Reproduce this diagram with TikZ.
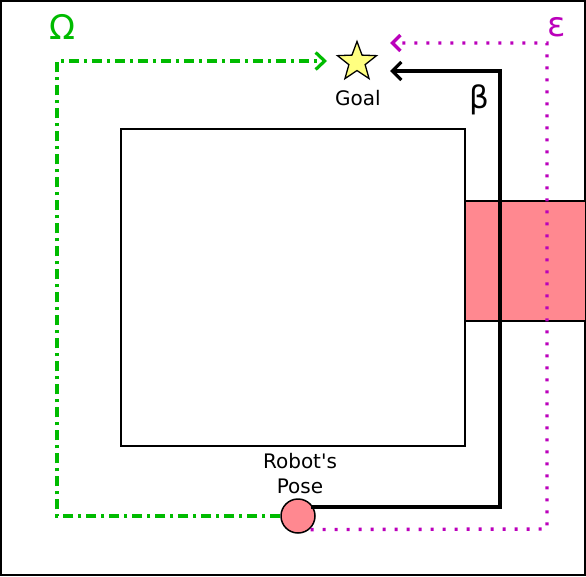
\documentclass[tikz,border=0pt]{standalone}
\usepackage{fontspec}
\setmainfont{DejaVu Sans}
\usepackage{xcolor}
\definecolor{mygreen}{RGB}{0,187,0}
\definecolor{mypurple}{RGB}{187,0,187}
\definecolor{mypink}{RGB}{255,136,144}
\definecolor{myyellow}{RGB}{255,255,128}
\usepackage{tikz}
\usetikzlibrary{shapes.geometric,arrows.meta}

\begin{document}
\begin{tikzpicture}[x=1pt,y=-1pt,line cap=round]
	\tikzstyle{omega}=[mygreen,line width=3.2pt,line cap=butt,dash pattern=on 10pt off 5pt on 3pt off 5pt,-{Straight Barb[length=9pt,width=17pt,line width=3.2pt]}];
	\tikzstyle{beta}=[black,line width=3.2pt,line cap=butt,-{Straight Barb[length=9pt,width=18pt,line width=3.2pt]}];
	\tikzstyle{eps}=[mypurple,line width=3.4pt,line cap=butt,dash pattern=on 3pt off 9pt,-{Straight Barb[length=8pt,width=16pt,line width=3.4pt]}];
	\tikzstyle{lbl}=[font=\fontsize{20}{25}\selectfont,align=center];
	\useasboundingbox (0,0) rectangle (586,576);
	\draw[line width=2.6pt] (1,1) rectangle (585,575);
	\draw[line width=2pt] (121,129) rectangle (465,446);
	\draw[fill=mypink,line width=2pt] (465,201) rectangle (586,321);
	\node[star,star points=5,star point ratio=2.4,minimum size=41pt,inner sep=0pt,draw,fill=myyellow,line width=1.3pt] (goal) at (357,62) {};
	\node[lbl] (goaltxt) at (358,98) {Goal};
	\node[circle,draw,fill=mypink,minimum size=34pt,inner sep=0pt,line width=1.5pt] (robot) at (298,516) {};
	\node[lbl] (robottxt) at (300,474) {Robot\textquotesingle s\\Pose};
	\coordinate (omtip) at (327,61);
	\coordinate (betip) at (390,71);
	\coordinate (eptip) at (390,43);
	\draw[omega] (robot.west) -- (57,516) -- (57,61) -- (omtip);
	\draw[beta] (robot.north east |- 0,507) -- (500,507) -- (500,71) -- (betip);
	\draw[eps] (robot.south east) ++(0,1) -- (547,529) -- (547,43) -- (eptip);
	\node[mygreen,font=\fontsize{34}{36}\selectfont] (omlbl) at (62,27) {Ω};
	\node[mypurple,font=\fontsize{34}{36}\selectfont] (eplbl) at (557,27) {ε};
	\node[font=\fontsize{31}{34}\selectfont] (belbl) at (479,100) {β};
\end{tikzpicture}
\end{document}
